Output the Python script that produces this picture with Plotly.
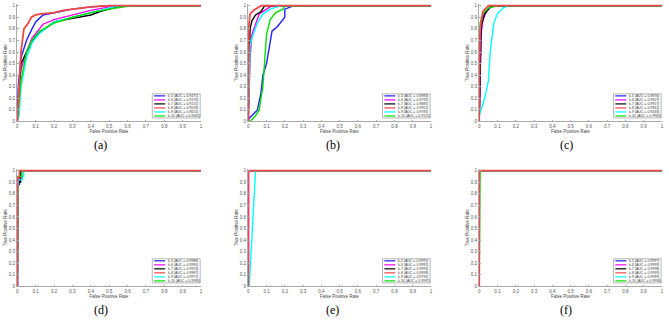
import plotly.graph_objects as go

# ---------------- data ----------------
series_names = ["k-5", "k-6", "k-7", "k-8", "k-9", "k-10"]
series_colors = ["#2020ff", "#ff00ff", "#000000", "#f04848", "#00ffff", "#00e000"]
series_widths = [1.4, 1.4, 1.4, 1.8, 1.4, 1.4]
panel_labels = ["(a)", "(b)", "(c)", "(d)", "(e)", "(f)"]
tick_vals = [0, 0.1, 0.2, 0.3, 0.4, 0.5, 0.6, 0.7, 0.8, 0.9, 1]
tick_text = ["0", "0.1", "0.2", "0.3", "0.4", "0.5", "0.6", "0.7", "0.8", "0.9", "1"]

auc_a = [0.9475, 0.9176, 0.9155, 0.9558, 0.9055, 0.9065]
auc_b = [0.8983, 0.9792, 0.9885, 0.9951, 0.9785, 0.9151]
auc_c = [0.9876, 0.9907, 0.9917, 0.9962, 0.9433, 0.9965]
auc_d = [0.9988, 0.9990, 0.9974, 0.9987, 0.9971, 0.9983]
auc_e = [0.9991, 0.9992, 0.9993, 0.9998, 0.9790, 0.9997]
auc_f = [0.9997, 0.9999, 0.9998, 0.9999, 0.9999, 0.9994]

# panel (a)
fpr_a_k5 = [0, 0.005, 0.02, 0.05, 0.08, 0.1, 0.14, 0.2, 0.3, 0.4, 0.5, 1]
tpr_a_k5 = [0, 0.3, 0.55, 0.7, 0.8, 0.86, 0.92, 0.94, 0.97, 0.99, 1, 1]
fpr_a_k6 = [0, 0.005, 0.02, 0.05, 0.08, 0.12, 0.14, 0.2, 0.25, 0.3, 0.4, 0.5, 0.55, 1]
tpr_a_k6 = [0, 0.2, 0.45, 0.6, 0.72, 0.8, 0.84, 0.88, 0.9, 0.92, 0.96, 0.99, 1, 1]
fpr_a_k7 = [0, 0.01, 0.02, 0.05, 0.1, 0.15, 0.2, 0.3, 0.4, 0.45, 0.5, 0.56, 1]
tpr_a_k7 = [0, 0.3, 0.5, 0.6, 0.74, 0.8, 0.86, 0.89, 0.92, 0.95, 0.97, 1, 1]
fpr_a_k8 = [0, 0.01, 0.02, 0.036, 0.06, 0.076, 0.1, 0.13, 0.2, 0.25, 0.3, 0.35, 0.4, 0.5, 1]
tpr_a_k8 = [0, 0.35, 0.6, 0.8, 0.85, 0.9, 0.92, 0.93, 0.94, 0.96, 0.97, 0.98, 0.99, 1, 1]
fpr_a_k9 = [0, 0.01, 0.02, 0.05, 0.08, 0.12, 0.2, 0.3, 0.4, 0.5, 0.55, 1]
tpr_a_k9 = [0, 0.05, 0.3, 0.55, 0.68, 0.76, 0.86, 0.9, 0.94, 0.98, 1, 1]
fpr_a_k10 = [0, 0.005, 0.02, 0.05, 0.08, 0.12, 0.2, 0.3, 0.4, 0.5, 0.62, 1]
tpr_a_k10 = [0, 0.1, 0.35, 0.6, 0.7, 0.78, 0.85, 0.9, 0.94, 0.97, 1, 1]

# panel (b)
fpr_b_k5 = [0, 0.005, 0.02, 0.05, 0.07, 0.08, 0.1, 0.12, 0.13, 0.16, 0.2, 0.2, 0.25, 1]
tpr_b_k5 = [0, 0.03, 0.05, 0.1, 0.25, 0.4, 0.5, 0.7, 0.78, 0.82, 0.9, 0.97, 1, 1]
fpr_b_k6 = [0, 0.01, 0.02, 0.04, 0.06, 0.1, 0.13, 1]
tpr_b_k6 = [0, 0.55, 0.75, 0.85, 0.93, 0.97, 1, 1]
fpr_b_k7 = [0, 0.005, 0.01, 0.02, 0.04, 0.07, 0.09, 1]
tpr_b_k7 = [0, 0.5, 0.8, 0.87, 0.92, 0.95, 1, 1]
fpr_b_k8 = [0, 0.003, 0.01, 0.03, 0.05, 0.07, 1]
tpr_b_k8 = [0, 0.82, 0.93, 0.96, 0.98, 1, 1]
fpr_b_k9 = [0, 0.005, 0.01, 0.02, 0.05, 0.08, 0.12, 0.18, 1]
tpr_b_k9 = [0, 0.5, 0.65, 0.72, 0.85, 0.93, 0.97, 1, 1]
fpr_b_k10 = [0, 0.01, 0.04, 0.06, 0.08, 0.09, 0.1, 0.12, 0.15, 0.19, 0.2, 1]
tpr_b_k10 = [0, 0.0, 0.05, 0.1, 0.3, 0.55, 0.75, 0.88, 0.94, 0.97, 1, 1]

# panel (c)
fpr_c_k5 = [0, 0.005, 0.01, 0.02, 0.04, 0.07, 1]
tpr_c_k5 = [0, 0.45, 0.78, 0.9, 0.96, 1, 1]
fpr_c_k6 = [0, 0.005, 0.01, 0.02, 0.04, 0.07, 1]
tpr_c_k6 = [0, 0.4, 0.75, 0.88, 0.95, 1, 1]
fpr_c_k7 = [0, 0.005, 0.01, 0.03, 0.06, 0.08, 1]
tpr_c_k7 = [0, 0.6, 0.82, 0.93, 0.99, 1, 1]
fpr_c_k8 = [0, 0, 0.005, 0.02, 0.05, 1]
tpr_c_k8 = [0, 0.3, 0.8, 0.95, 1, 1]
fpr_c_k9 = [0, 0, 0.01, 0.03, 0.05, 0.06, 0.08, 0.1, 0.13, 0.16, 1]
tpr_c_k9 = [0, 0.05, 0.1, 0.2, 0.35, 0.6, 0.85, 0.93, 0.98, 1, 1]
fpr_c_k10 = [0, 0, 0.005, 0.02, 0.05, 0.1, 1]
tpr_c_k10 = [0, 0.5, 0.85, 0.93, 0.98, 1, 1]

# panel (d)
fpr_d_k5 = [0, 0.002, 0.002, 0.012, 0.012, 0.02, 0.02, 1]
tpr_d_k5 = [0, 0, 0.88, 0.88, 0.94, 0.94, 1, 1]
fpr_d_k6 = [0, 0.003, 0.003, 0.015, 0.015, 1]
tpr_d_k6 = [0, 0.85, 0.92, 0.92, 1, 1]
fpr_d_k7 = [0, 0.004, 0.004, 0.018, 0.018, 1]
tpr_d_k7 = [0, 0.7, 0.9, 0.9, 1, 1]
fpr_d_k8 = [0, 0, 0.002, 0.002, 0.012, 0.012, 1]
tpr_d_k8 = [0, 0.9, 0.9, 0.94, 0.94, 1, 1]
fpr_d_k9 = [0, 0.005, 0.005, 0.028, 0.028, 0.035, 0.035, 1]
tpr_d_k9 = [0, 0.7, 0.92, 0.92, 0.95, 0.95, 1, 1]
fpr_d_k10 = [0, 0, 0.003, 0.003, 0.025, 0.025, 1]
tpr_d_k10 = [0, 0.75, 0.75, 0.95, 0.95, 1, 1]

# panel (e)
fpr_e_k5 = [0, 0, 1]
tpr_e_k5 = [0, 1, 1]
fpr_e_k6 = [0, 0.002, 0.002, 1]
tpr_e_k6 = [0, 0, 1, 1]
fpr_e_k7 = [0, 0, 1]
tpr_e_k7 = [0, 1, 1]
fpr_e_k8 = [0, 0, 1]
tpr_e_k8 = [0, 1, 1]
fpr_e_k9 = [0, 0.005, 0.04, 1]
tpr_e_k9 = [0, 0, 1, 1]
fpr_e_k10 = [0, 0, 1]
tpr_e_k10 = [0, 1, 1]

# panel (f)
fpr_f_k5 = [0, 0, 1]
tpr_f_k5 = [0, 1, 1]
fpr_f_k6 = [0, 0, 1]
tpr_f_k6 = [0, 1, 1]
fpr_f_k7 = [0, 0, 1]
tpr_f_k7 = [0, 1, 1]
fpr_f_k8 = [0, 0, 1]
tpr_f_k8 = [0, 1, 1]
fpr_f_k9 = [0, 0, 1]
tpr_f_k9 = [0, 1, 1]
fpr_f_k10 = [0, 0.005, 0.005, 1]
tpr_f_k10 = [0, 0.9, 1, 1]

panels = [
    ([fpr_a_k5, fpr_a_k6, fpr_a_k7, fpr_a_k8, fpr_a_k9, fpr_a_k10],
     [tpr_a_k5, tpr_a_k6, tpr_a_k7, tpr_a_k8, tpr_a_k9, tpr_a_k10], auc_a),
    ([fpr_b_k5, fpr_b_k6, fpr_b_k7, fpr_b_k8, fpr_b_k9, fpr_b_k10],
     [tpr_b_k5, tpr_b_k6, tpr_b_k7, tpr_b_k8, tpr_b_k9, tpr_b_k10], auc_b),
    ([fpr_c_k5, fpr_c_k6, fpr_c_k7, fpr_c_k8, fpr_c_k9, fpr_c_k10],
     [tpr_c_k5, tpr_c_k6, tpr_c_k7, tpr_c_k8, tpr_c_k9, tpr_c_k10], auc_c),
    ([fpr_d_k5, fpr_d_k6, fpr_d_k7, fpr_d_k8, fpr_d_k9, fpr_d_k10],
     [tpr_d_k5, tpr_d_k6, tpr_d_k7, tpr_d_k8, tpr_d_k9, tpr_d_k10], auc_d),
    ([fpr_e_k5, fpr_e_k6, fpr_e_k7, fpr_e_k8, fpr_e_k9, fpr_e_k10],
     [tpr_e_k5, tpr_e_k6, tpr_e_k7, tpr_e_k8, tpr_e_k9, tpr_e_k10], auc_e),
    ([fpr_f_k5, fpr_f_k6, fpr_f_k7, fpr_f_k8, fpr_f_k9, fpr_f_k10],
     [tpr_f_k5, tpr_f_k6, tpr_f_k7, tpr_f_k8, tpr_f_k9, tpr_f_k10], auc_f),
]

# ---------------- layout ----------------
W, H = 669, 323
col_px = [(16, 201), (248, 432), (480, 664)]
row_px = [(3, 122), (170, 289)]
label_x_px = [100, 333, 568]
label_y_px = [146, 313]

fig = go.Figure()
draw_order = [0, 1, 2, 4, 5, 3]  # red drawn last (on top)

for p, (fprs, tprs, aucs) in enumerate(panels):
    r, c = divmod(p, 3)
    n = p + 1
    xa = "xaxis" if n == 1 else f"xaxis{n}"
    ya = "yaxis" if n == 1 else f"yaxis{n}"
    xr = "x" if n == 1 else f"x{n}"
    yr = "y" if n == 1 else f"y{n}"
    x0, x1 = col_px[c]
    y0, y1 = row_px[r]
    for i in draw_order:
        fig.add_trace(go.Scatter(
            x=fprs[i], y=tprs[i], mode="lines",
            line=dict(color=series_colors[i], width=series_widths[i]),
            xaxis=xr, yaxis=yr, showlegend=False, hoverinfo="skip",
            cliponaxis=False))
    common = dict(tickvals=tick_vals, ticktext=tick_text,
                  tickfont=dict(size=4.5, color="#555555", family="Liberation Sans"),
                  showgrid=False, zeroline=False, showline=True,
                  linecolor="#aaaaaa", linewidth=0.8, ticks="inside",
                  ticklen=2, tickcolor="#aaaaaa", tickwidth=0.6, fixedrange=True)
    fig.layout[xa] = dict(common, range=[-0.002, 1.0], domain=[x0 / W, x1 / W], anchor=yr,
                          title=dict(text="False Positive Rate", standoff=1,
                                     font=dict(size=4.5, color="#444444", family="Liberation Sans")))
    fig.layout[ya] = dict(common, range=[0, 1.015], domain=[1 - y1 / H, 1 - y0 / H], anchor=xr,
                          title=dict(text="True Positive Rate", standoff=1,
                                     font=dict(size=4.5, color="#444444", family="Liberation Sans")))

    # manual legend box (bottom-right inside axes)
    xd = f"{xr} domain"
    yd = f"{yr} domain"
    lx0, lx1 = 0.735, 0.995
    ly0, ly1 = 0.03, 0.235
    fig.add_shape(type="rect", xref=xd, yref=yd, x0=lx0, x1=lx1, y0=ly0, y1=ly1,
                  line=dict(color="#888888", width=0.6), fillcolor="white", layer="above")
    step = (ly1 - ly0) / 6
    for i in range(6):
        yy = ly1 - step * (i + 0.5)
        fig.add_shape(type="line", xref=xd, yref=yd, x0=lx0 + 0.01, x1=lx0 + 0.07,
                      y0=yy, y1=yy, line=dict(color=series_colors[i], width=1.2), layer="above")
        fig.add_annotation(xref=xd, yref=yd, x=lx0 + 0.075, y=yy, xanchor="left",
                           yanchor="middle", showarrow=False,
                           text=f"{series_names[i]} (AUC = {aucs[i]:.4f})",
                           font=dict(size=3.5, color="#333333", family="Liberation Sans"))

    fig.add_annotation(xref="paper", yref="paper", x=label_x_px[c] / W,
                       y=1 - label_y_px[r] / H, xanchor="center", yanchor="middle",
                       showarrow=False, text=panel_labels[p],
                       font=dict(size=12, color="#000000", family="Liberation Serif"))

fig.update_layout(width=W, height=H, margin=dict(l=0, r=0, t=0, b=0),
                  paper_bgcolor="white", plot_bgcolor="white", showlegend=False)

fig.write_html("out.html", config={"displayModeBar": False})
